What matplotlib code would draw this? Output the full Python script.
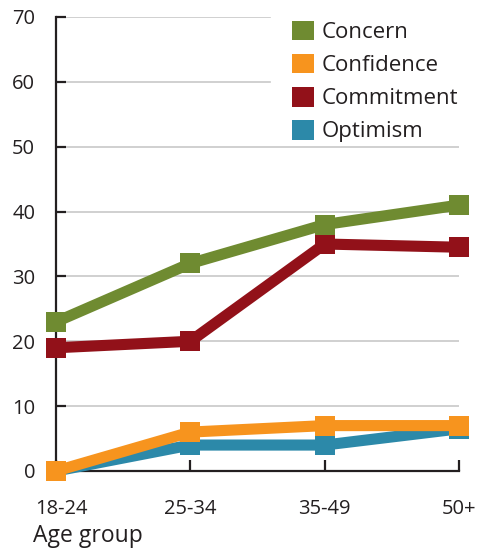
import matplotlib
matplotlib.use("Agg")
import matplotlib.pyplot as plt
import matplotlib.transforms as mtransforms
from matplotlib.patches import Patch

plt.rcParams["font.family"] = ["Open Sans", "DejaVu Sans"]

# --- data ---
age_groups = ["18-24", "25-34", "35-49", "50+"]
concern = [23, 32, 38, 41]
confidence = [0, 6, 7, 7]
commitment = [19, 20, 35, 34.5]
optimism = [0, 4, 4, 6.5]

series_names = ["Concern", "Confidence", "Commitment", "Optimism"]
series_vals = [concern, confidence, commitment, optimism]
colors = ["#6f8b31", "#f7941e", "#921119", "#2c89a9"]

y_ticks = [0, 10, 20, 30, 40, 50, 60, 70]

ink = "#231f20"
W, H = 481, 550

fig = plt.figure(figsize=(W / 100, H / 100), dpi=100)
ax = fig.add_axes([56 / W, 79 / H, 403 / W, 454 / H])

x = list(range(len(age_groups)))

# gridlines (the top two are cut short where the legend sits)
for v in y_ticks[1:]:
    xmax = 0.531 if v >= 60 else 1.0
    ax.axhline(v, xmin=0, xmax=xmax, color="#c8c8c8", lw=1.2, zorder=0.5)

# draw in reverse so legend-first series sits on top
for name, vals, c in reversed(list(zip(series_names, series_vals, colors))):
    ax.plot(x, vals, color=c, lw=8, marker="s", ms=15, mew=0,
            solid_joinstyle="miter", clip_on=False, zorder=3)

ax.set_xlim(0, len(age_groups) - 1)
ax.set_ylim(0, 70)
ax.set_xticks(x)
ax.set_xticklabels(age_groups)
ax.set_yticks(y_ticks)

for s in ["top", "right"]:
    ax.spines[s].set_visible(False)
for s in ["left", "bottom"]:
    ax.spines[s].set_color(ink)
    ax.spines[s].set_linewidth(1.6)

ax.tick_params(axis="y", direction="in", length=7.5, width=1.6, color=ink,
               labelsize=14.5, labelcolor=ink, pad=15)
ax.tick_params(axis="x", direction="in", length=8, width=1.6, color=ink,
               labelsize=14.5, labelcolor=ink, pad=20)

# nudge first x label right like the original
lbl = ax.get_xticklabels()[0]
lbl.set_transform(lbl.get_transform() + mtransforms.ScaledTranslation(5 / 100, 0, fig.dpi_scale_trans))

fig.text(33 / W, 1 - 542 / H, "Age group", fontsize=16.5, color=ink,
         ha="left", va="baseline")

handles = [Patch(facecolor=c, edgecolor="none", label=n) for n, c in zip(series_names, colors)]
leg = fig.legend(handles=handles, loc="upper left", bbox_to_anchor=(292 / W, 1 - 21 / H),
                 frameon=False, fontsize=16, handlelength=0.97, handleheight=0.97,
                 handletextpad=0.38, labelspacing=0.48, borderpad=0, borderaxespad=0)
for t in leg.get_texts():
    t.set_color(ink)

plt.savefig("out.png", dpi=100)
plt.close()
